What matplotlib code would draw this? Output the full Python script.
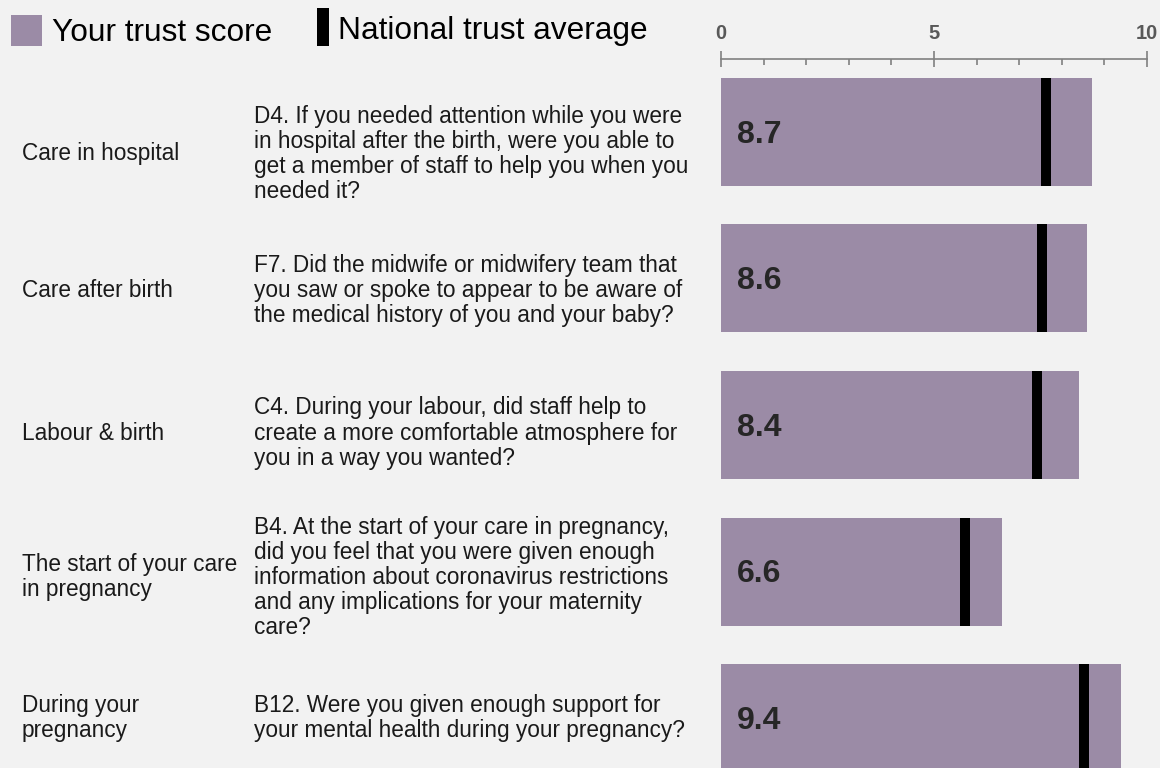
import matplotlib
matplotlib.use("Agg")
import matplotlib.pyplot as plt
from matplotlib.patches import Rectangle
from matplotlib.ticker import MultipleLocator

plt.rcParams['font.family'] = ['Liberation Sans', 'DejaVu Sans']

sections = ["Care in hospital", "Care after birth", "Labour & birth",
            "The start of your care\nin pregnancy", "During your\npregnancy"]
questions = [
    "D4. If you needed attention while you were\nin hospital after the birth, were you able to\n"
    "get a member of staff to help you when you\nneeded it?",
    "F7. Did the midwife or midwifery team that\nyou saw or spoke to appear to be aware of\n"
    "the medical history of you and your baby?",
    "C4. During your labour, did staff help to\ncreate a more comfortable atmosphere for\n"
    "you in a way you wanted?",
    "B4. At the start of your care in pregnancy,\ndid you feel that you were given enough\n"
    "information about coronavirus restrictions\nand any implications for your maternity\ncare?",
    "B12. Were you given enough support for\nyour mental health during your pregnancy?",
]
trust_score = [8.7, 8.6, 8.4, 6.6, 9.4]
national_avg = [7.63, 7.54, 7.42, 5.73, 8.52]

BG = '#f2f2f2'
PURPLE = '#9b8ba6'
W, H = 1160, 768

fig = plt.figure(figsize=(W / 100, H / 100), dpi=100, facecolor=BG)

def fx(px):
    return px / W

def fy(py):
    return 1 - py / H

ax = fig.add_axes([fx(721), 0, fx(1147) - fx(721), fy(59)])
ax.set_facecolor(BG)

rows = list(range(len(trust_score)))
ax.barh(rows, trust_score, height=0.737, color=PURPLE, zorder=2)
ax.barh(rows, [0.24] * len(rows), left=[v - 0.12 for v in national_avg],
        height=0.737, color='black', zorder=3)
for i, v in enumerate(trust_score):
    ax.text(0.375, i + 0.02, f"{v:.1f}", ha='left', va='center', fontsize=23,
            fontweight='bold', color='#262626', zorder=4)

ax.set_xlim(0, 10)
ax.set_ylim(4.341, -0.498)
ax.xaxis.tick_top()
ax.xaxis.set_major_locator(MultipleLocator(5))
ax.xaxis.set_minor_locator(MultipleLocator(1))
ax.tick_params(axis='x', which='major', direction='inout', length=11, width=1.2,
               color='#808080', labelsize=14.5, labelcolor='#595959', pad=6)
ax.tick_params(axis='x', which='minor', direction='in', length=4, width=1.2,
               color='#808080')
for lab in ax.get_xticklabels():
    lab.set_fontweight('bold')
ax.set_yticks([])
for side in ['left', 'right', 'bottom']:
    ax.spines[side].set_visible(False)
ax.spines['top'].set_color('#808080')
ax.spines['top'].set_linewidth(1.2)

# row labels, nudged relative to each bar centre
text_dy = [0.15, 0.08, 0.055, 0.04, 0.0]
trans_row = matplotlib.transforms.blended_transform_factory(fig.transFigure, ax.transData)
for i, (sec, q) in enumerate(zip(sections, questions)):
    ax.text(fx(22), i + text_dy[i], sec, transform=trans_row, ha='left', va='center',
            fontsize=16.3, color='#1a1a1a', linespacing=1.12, clip_on=False)
    ax.text(fx(254), i + text_dy[i], q, transform=trans_row, ha='left', va='center',
            fontsize=16.3, color='#1a1a1a', linespacing=1.12, clip_on=False)

# legend
fig.add_artist(Rectangle((fx(11), fy(46)), fx(31), 31 / H, transform=fig.transFigure,
                         facecolor=PURPLE, edgecolor='none'))
fig.text(fx(52), fy(33), "Your trust score", ha='left', va='center', fontsize=22.8,
         color='black')
fig.add_artist(Rectangle((fx(317), fy(46)), fx(12), 38 / H, transform=fig.transFigure,
                         facecolor='black', edgecolor='none'))
fig.text(fx(338), fy(31), "National trust average", ha='left', va='center', fontsize=22.8,
         color='black')

fig.savefig('out.png', dpi=100, facecolor=BG)
